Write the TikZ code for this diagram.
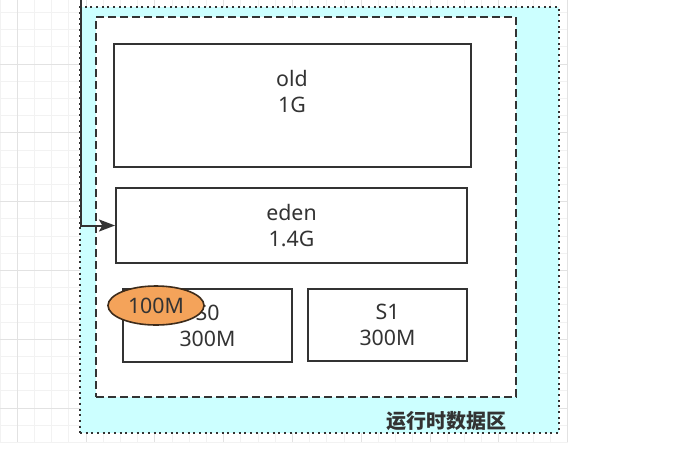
\documentclass[tikz,border=0pt]{standalone}
\usepackage{fontspec}
\setmainfont{Noto Sans}
\newfontfamily\cjk{Noto Sans CJK SC}
\usetikzlibrary{arrows.meta,shapes.geometric}

\definecolor{lineC}{HTML}{333333}
\definecolor{areaC}{HTML}{CCFFFF}
\definecolor{tagC}{HTML}{F4A35A}
\definecolor{tagLine}{HTML}{3D2B1A}
\definecolor{gridMinor}{HTML}{F2F2F2}
\definecolor{gridMajor}{HTML}{E2E2E2}

\tikzset{
  sized/.style 2 args={minimum width=#1*0.75pt, minimum height=#2*0.75pt},
  box/.style={draw=lineC, line width=1.5pt, fill=white, align=center, inner sep=0pt},
  heap/.style={draw=lineC, line width=1.5pt, fill=white, dash pattern=on 6pt off 3pt, inner sep=0pt},
  area/.style={draw=lineC, line width=1.5pt, fill=areaC, dash pattern=on 1.5pt off 2.75pt, inner sep=0pt},
  tag/.style={ellipse, draw=tagLine, line width=1.2pt, fill=tagC, inner sep=0pt},
  flow/.style={draw=lineC, line width=1.5pt, -{Stealth[length=12pt,width=9pt,inset=2.5pt]}},
}

\begin{document}
\begin{tikzpicture}[x=0.75pt,y=-0.75pt,font=\fontsize{16}{19.5}\selectfont]
  \useasboundingbox (0,0) rectangle (678,472);
  % background grid
  \foreach \k in {0,...,33}
    \draw[gridMinor,line width=0.5pt] (\k*17.2,0) -- (\k*17.2,442.4);
  \foreach \k in {0,...,25}
    \draw[gridMinor,line width=0.5pt] (0,12.4+\k*17.2) -- (567.6,12.4+\k*17.2);
  \foreach \k in {0,...,8}
    \draw[gridMajor,line width=0.5pt] (17.2+\k*68.8,0) -- (17.2+\k*68.8,442.4);
  \foreach \k in {0,...,5}
    \draw[gridMajor,line width=0.5pt] (0,64+\k*68.8) -- (567.6,64+\k*68.8);

  \node[area, sized={479}{425.5}] (rtda) at (319.5,219.75) {};
  \node[heap, sized={420}{380}] (heap) at (306,207) {};
  \node[font=\cjk\bfseries\fontsize{15}{18}\selectfont, text=lineC] (rtdalabel) at (446,421) {运行时数据区};

  \node[box, sized={357}{123}] (old) at (292,105.5) {};
  \node[align=center, text=lineC, inner sep=0pt] (oldtext) at (292,91.5) {old\\1G};
  \node[box, sized={351}{75}, text=lineC] (eden) at (291.5,225.5) {eden\\1.4G};
  \node[box, sized={169}{73}, text=lineC] (s0) at (207.5,325.5) {S0\\300M};
  \node[box, sized={159}{72}, text=lineC] (s1) at (387.5,325) {S1\\300M};
  \node[tag, sized={96}{39}, text=lineC] (s0used) at (156,305.5) {100M};

  \coordinate (entry) at (81,-5);
  \draw[flow] (entry) |- (eden.west);
\end{tikzpicture}
\end{document}
